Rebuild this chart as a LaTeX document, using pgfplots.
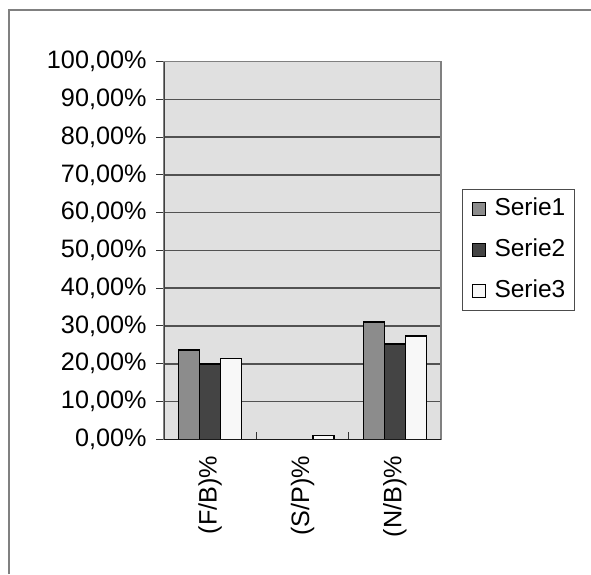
\documentclass[border=0pt]{standalone}
\usepackage{fontspec}
\setmainfont{Liberation Sans}
\usepackage{pgfplots}
\pgfplotsset{compat=1.18}
\definecolor{sone}{HTML}{8C8C8C}
\definecolor{stwo}{HTML}{444444}
\definecolor{sthree}{HTML}{F8F8F8}
\definecolor{bg}{HTML}{E0E0E0}
\definecolor{frame}{HTML}{808080}
\begin{document}
\begin{tikzpicture}
\useasboundingbox (0,0) rectangle (591pt,-574pt);
\draw[frame, line width=1.5pt] (9pt,-574pt) -- (9pt,-10pt) -- (591pt,-10pt);
\begin{axis}[
  at={(164pt,-439.3pt)}, anchor=south west,
  scale only axis, width=277pt, height=377.8pt,
  ybar=0pt, bar width=21pt,
  xmin=-0.5, xmax=2.5, ymin=0, ymax=100,
  axis background/.style={fill=bg},
  axis line style={draw=frame, line width=1.5pt},
  ymajorgrids, grid style={draw=black!68, line width=1.5pt},
  ytick={0,10,...,100},
  yticklabels={{0,00\%},{10,00\%},{20,00\%},{30,00\%},{40,00\%},{50,00\%},{60,00\%},{70,00\%},{80,00\%},{90,00\%},{100,00\%}},
  xtick={0,1,2},
  xticklabels={(F/B)\%,(S/P)\%,(N/B)\%},
  minor xtick={0.5,1.5},
  tick align=outside, tick pos=left,
  major tick length=8pt, minor tick length=7pt,
  major x tick style={draw=none},
  minor x tick style={draw=black!80, line width=1pt, yshift=7pt},
  y tick style={draw=black!80, line width=1pt},
  ticklabel style={font=\fontsize{25.2}{29}\selectfont},
  yticklabel style={xshift=-6pt},
  xticklabel style={rotate=90, anchor=east, yshift=0pt, xshift=-5pt},
  legend style={at={(1,0.5)}, anchor=west, xshift=21pt,
    draw=black!70, line width=1pt, fill=white,
    font=\fontsize{24.5}{28}\selectfont,
    inner xsep=9pt, inner ysep=8pt,
    nodes={inner sep=0pt, text height=18pt, text depth=5pt},
    /tikz/column sep=9pt, /tikz/row sep=18pt},
  legend cell align=left,
  legend image code/.code={\draw[#1, line width=1pt] (0pt,-6.5pt) rectangle (13pt,6.5pt);},
]
\addplot[fill=sone, draw=black, line width=1.5pt] coordinates {(0,23.6) (1,0) (2,31.0)};
\addplot[fill=stwo, draw=black, line width=1.5pt] coordinates {(0,19.9) (1,0) (2,25.2)};
\addplot[fill=sthree, draw=black, line width=1.5pt] coordinates {(0,21.4) (1,0.95) (2,27.3)};
\legend{Serie1,Serie2,Serie3}
\draw[black!75, line width=1.5pt] (rel axis cs:0,0) -- (rel axis cs:0,1);
\draw[black!90, line width=1.5pt] (rel axis cs:0,0) -- (rel axis cs:1,0);
\end{axis}
\end{tikzpicture}
\end{document}
